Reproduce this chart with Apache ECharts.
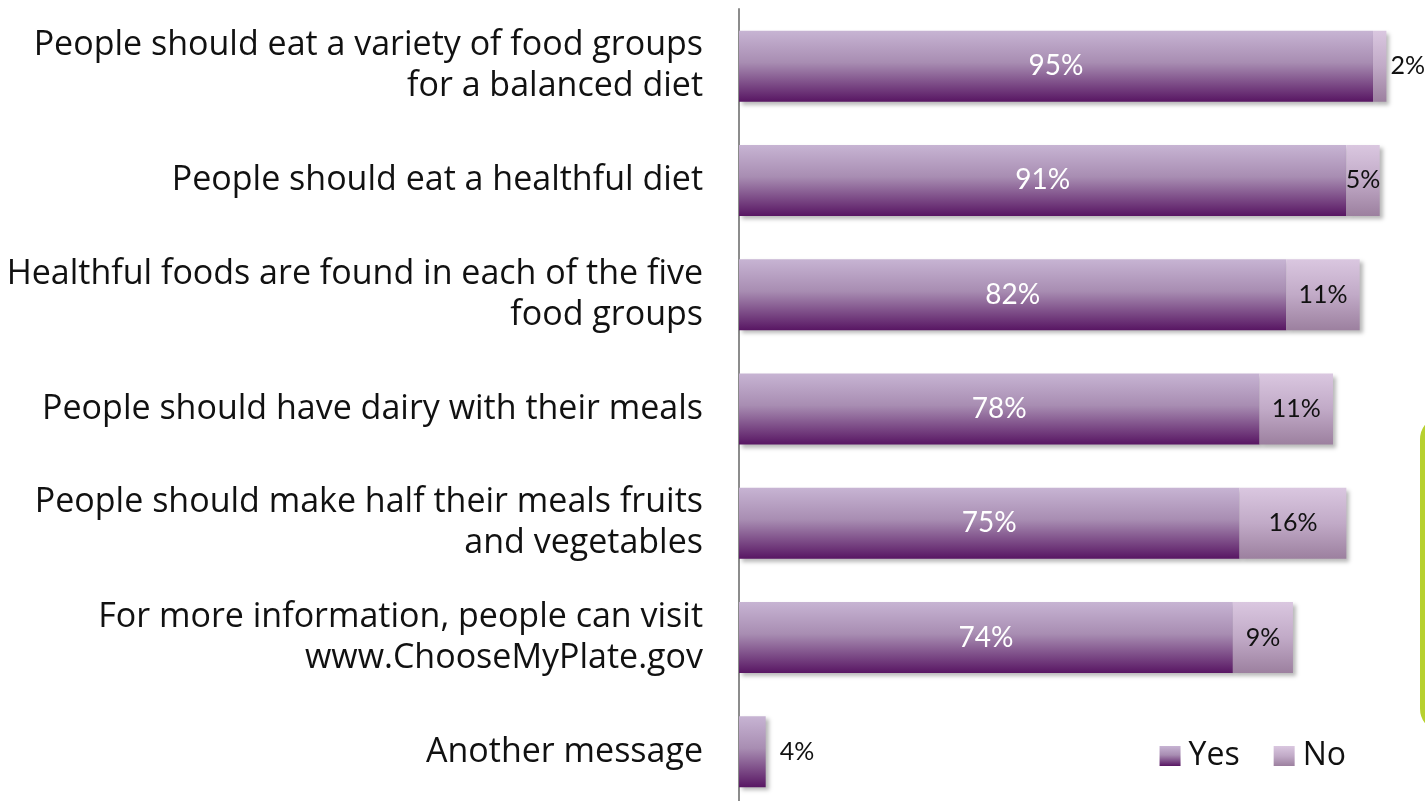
<!DOCTYPE html>
<html>
<head>
<meta charset="utf-8">
<title>Message recall</title>
<script src="https://cdn.jsdelivr.net/npm/echarts@6/dist/echarts.min.js"></script>
<style>
  html, body { margin: 0; padding: 0; background: #ffffff; overflow: hidden; }
  /* the plot runs slightly past the bottom edge of the window */
  #chart { width: 1425px; height: 812px; }
</style>
</head>
<body>
<div id="chart"></div>
<script>
// Survey statements, top to bottom
const categories = [
  'People should eat a variety of food groups\nfor a balanced diet',
  'People should eat a healthful diet',
  'Healthful foods are found in each of the five\nfood groups',
  'People should have dairy with their meals',
  'People should make half their meals fruits\nand vegetables',
  'For more information, people can visit\nwww.ChooseMyPlate.gov',
  'Another message'
];
// Share of respondents (%)
const yesValues = [95, 91, 82, 78, 75, 74, 4];
const noValues = [2, 5, 11, 11, 16, 9, null];
const seriesNames = ['Yes', 'No'];

const TEXT_FONT = '"Open Sans", Lato, sans-serif';
const VALUE_FONT = 'Lato, "Open Sans", sans-serif';

const yesGradient = new echarts.graphic.LinearGradient(0, 0, 0, 1, [
  { offset: 0, color: '#c7b4d3' },
  { offset: 0.45, color: '#a88db2' },
  { offset: 1, color: '#581663' }
]);
const noGradient = new echarts.graphic.LinearGradient(0, 0, 0, 1, [
  { offset: 0, color: '#dac7e0' },
  { offset: 0.5, color: '#c1aac7' },
  { offset: 1, color: '#9c809f' }
]);
const shadow = {
  shadowColor: 'rgba(0,0,0,0.28)',
  shadowBlur: 4,
  shadowOffsetX: 3,
  shadowOffsetY: 3
};

// Bars too short to hold their label get it outside, in dark text
const yesData = yesValues.map(v => v < 10
  ? { value: v, label: { position: 'right', color: '#111', fontSize: 25, distance: 14 } }
  : v);
const noData = noValues.map(v => v !== null && v < 4
  ? { value: v, label: { position: 'right', distance: 4 } }
  : v);

const chart = echarts.init(document.getElementById('chart'));
chart.setOption({
  backgroundColor: '#ffffff',
  animation: false,
  grid: { left: 739, top: 9, height: 800, width: 667.4, containLabel: false },
  xAxis: {
    type: 'value', min: 0, max: 100,
    show: false
  },
  yAxis: {
    type: 'category',
    data: categories,
    inverse: true,
    axisLine: { show: true, lineStyle: { color: '#8c8c8c', width: 2 } },
    axisTick: { show: false },
    axisLabel: {
      margin: 36,
      fontFamily: TEXT_FONT,
      fontSize: 34,
      lineHeight: 41,
      color: '#111111',
      align: 'right'
    }
  },
  legend: {
    data: seriesNames,
    right: 74,
    top: 735,
    itemWidth: 21,
    itemHeight: 20,
    itemGap: 34,
    icon: 'rect',
    textStyle: { fontFamily: TEXT_FONT, fontSize: 32, color: '#111111', padding: [0, 0, 0, 3] }
  },
  series: [
    {
      name: seriesNames[0],
      type: 'bar',
      stack: 'total',
      barWidth: 71,
      data: yesData,
      itemStyle: Object.assign({ color: yesGradient }, shadow),
      label: {
        show: true,
        position: 'inside',
        formatter: '{c}%',
        fontFamily: VALUE_FONT,
        fontSize: 28,
        color: '#ffffff'
      }
    },
    {
      name: seriesNames[1],
      type: 'bar',
      stack: 'total',
      barWidth: 71,
      data: noData,
      itemStyle: Object.assign({ color: noGradient }, shadow),
      label: {
        show: true,
        position: 'inside',
        formatter: '{c}%',
        fontFamily: VALUE_FONT,
        fontSize: 25,
        color: '#111111'
      }
    }
  ],
  graphic: [
    {
      type: 'rect',
      left: 1420,
      top: 415,
      shape: { width: 80, height: 313, r: 22 },
      style: { fill: 'none', stroke: '#b7d12f', lineWidth: 5 },
      silent: true
    }
  ]
});
</script>
</body>
</html>
